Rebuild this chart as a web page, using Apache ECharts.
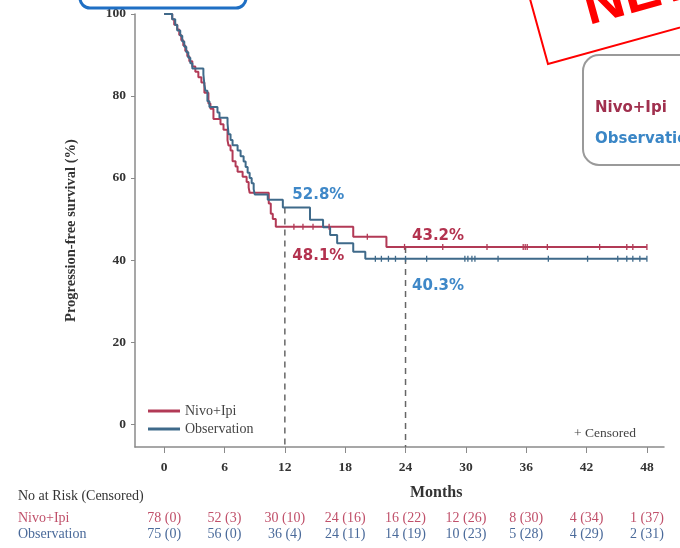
<!DOCTYPE html>
<html><head><meta charset="utf-8">
<script src="https://cdn.jsdelivr.net/npm/echarts@6/dist/echarts.min.js"></script>
<style>html,body{margin:0;padding:0;background:#fff}#c{width:680px;height:548px}</style>
</head><body><div id="c"></div>
<script>
// ---------- data ----------
const monthTicks = [0, 6, 12, 18, 24, 30, 36, 42, 48];
const pctTicks = [0, 20, 40, 60, 80, 100];

const nivoTimes = [0, 0.8, 1.0, 1.3, 1.5, 1.7, 1.9, 2.1, 2.3, 2.5, 2.8, 3.1, 3.4, 3.7, 4.0, 4.4, 4.6, 4.9, 5.6, 5.9, 6.3, 6.4, 6.6, 6.8, 7.1, 7.3, 7.8, 8.2, 8.4, 8.5, 10.4, 10.6, 10.8, 11.1, 18.8, 22.1, 48];
const nivoSurv  = [100, 98.7, 97.4, 96.2, 94.9, 93.6, 92.3, 91.0, 89.7, 88.5, 87.2, 85.9, 84.6, 83.3, 80.8, 78.2, 76.9, 74.4, 73.1, 71.8, 69.2, 67.9, 66.7, 64.1, 62.8, 61.5, 60.3, 59.0, 57.7, 56.4, 53.8, 51.3, 50.0, 48.1, 45.7, 43.2, 43.2];

const obsTimes = [0, 0.8, 1.1, 1.3, 1.6, 1.8, 2.0, 2.2, 2.4, 2.6, 2.8, 3.9, 4.0, 4.1, 4.3, 4.5, 5.3, 5.5, 6.3, 6.4, 6.6, 6.8, 7.3, 7.6, 7.9, 8.1, 8.3, 8.5, 8.7, 8.9, 9.0, 10.3, 11.8, 14.5, 15.8, 16.5, 17.2, 18.8, 20.0, 48];
const obsSurv  = [100, 98.7, 97.3, 96.0, 94.7, 93.3, 92.0, 90.7, 89.3, 88.0, 86.7, 85.3, 82.7, 81.3, 78.7, 77.3, 76.0, 74.7, 73.3, 70.7, 69.3, 68.0, 66.7, 65.3, 64.0, 62.7, 61.3, 60.0, 58.7, 57.3, 56.0, 54.7, 52.8, 49.8, 48.0, 46.1, 44.1, 42.0, 40.3, 40.3];

const nivoCensored = [12.9, 13.8, 14.8, 16.4, 20.2, 23.9, 27.7, 32.1, 35.7, 35.9, 36.1, 38.1, 43.3, 46.0, 46.6, 48.0];
const obsCensored  = [21.0, 21.6, 22.3, 23.0, 24.0, 26.1, 29.9, 30.2, 30.6, 30.9, 33.2, 38.2, 42.1, 45.1, 46.0, 46.6, 47.3, 48.0];

const milestoneMonths = [12, 24];
const nivoMilestone = [48.1, 43.2];
const obsMilestone = [52.8, 40.3];

const riskRows = ['Observation', 'Nivo+Ipi'];
const nivoRisk = ['78 (0)', '52 (3)', '30 (10)', '24 (16)', '16 (22)', '12 (26)', '8 (30)', '4 (34)', '1 (37)'];
const obsRisk  = ['75 (0)', '56 (0)', '36 (4)', '24 (11)', '14 (19)', '10 (23)', '5 (28)', '4 (29)', '2 (31)'];

// ---------- style ----------
const RED = '#b23a56';
const BLUE = '#3f6a8a';
const RED_T = '#b3324f';
const BLUE_T = '#3f88c8';
const SERIF = '"Liberation Serif", "DejaVu Serif", serif';
const SANS = '"DejaVu Sans", sans-serif';
const X_MIN = -2.9, X_MAX = 49.7, Y_MIN = -5.6, Y_MAX = 100;

function survAt(times, surv, t) {
  let v = surv[0];
  for (let i = 0; i < times.length; i++) { if (times[i] <= t) v = surv[i]; }
  return v;
}
const zip = (a, b) => a.map((v, i) => [v, b[i]]);

const chart = echarts.init(document.getElementById('c'), null, {renderer: 'canvas'});

const dashedSeries = milestoneMonths.map((m, i) => ({
  type: 'line', silent: true, symbol: 'none', z: 1,
  data: [[m, Math.max(nivoMilestone[i], obsMilestone[i])], [m, Y_MIN]],
  lineStyle: {color: '#666', width: 1.5, type: [6, 5]}
}));

const annot = [
  {value: [milestoneMonths[0], obsMilestone[0]], label: {offset: [7, -12], color: BLUE_T}},
  {value: [milestoneMonths[0], nivoMilestone[0]], label: {offset: [7, 29], color: RED_T}},
  {value: [milestoneMonths[1], nivoMilestone[1]], label: {offset: [6, -11], color: RED_T}},
  {value: [milestoneMonths[1], obsMilestone[1]], label: {offset: [6, 27], color: BLUE_T}}
];

const option = {
  backgroundColor: '#fff',
  animation: false,
  grid: [
    {left: 135, right: 16, top: 14, bottom: 101},
    {left: 135, right: 16, top: 510, height: 32}
  ],
  legend: {
    left: 143, top: 399, orient: 'vertical', itemGap: 4,
    itemWidth: 32, itemHeight: 3, icon: 'rect',
    data: ['Nivo+Ipi', 'Observation'],
    textStyle: {fontFamily: SERIF, fontSize: 14, color: '#444', lineHeight: 14}
  },
  xAxis: [{
    type: 'value', min: X_MIN, max: X_MAX, gridIndex: 0,
    axisLine: {show: true, onZero: false, lineStyle: {color: '#8a8a8a', width: 1.5}},
    axisTick: {show: true, customValues: monthTicks, length: 6, lineStyle: {color: '#8a8a8a'}},
    axisLabel: {customValues: monthTicks, margin: 14, fontFamily: SERIF, fontWeight: 'bold', fontSize: 13.5, color: '#333'},
    splitLine: {show: false}
  }, {
    type: 'value', min: X_MIN, max: X_MAX, gridIndex: 1, show: false
  }],
  yAxis: [{
    type: 'value', min: Y_MIN, max: Y_MAX, gridIndex: 0,
    axisLine: {show: true, onZero: false, lineStyle: {color: '#8a8a8a', width: 1.5}},
    axisTick: {show: true, customValues: pctTicks, length: 4, lineStyle: {color: '#8a8a8a'}},
    axisLabel: {customValues: pctTicks, margin: 9, fontFamily: SERIF, fontWeight: 'bold', fontSize: 13.5, color: '#333'},
    splitLine: {show: false},
    name: 'Progression-free survival (%)', nameLocation: 'middle', nameGap: 56,
    nameTextStyle: {fontFamily: SERIF, fontWeight: 'bold', fontSize: 14.5, color: '#333'}
  }, {
    type: 'category', gridIndex: 1, data: riskRows,
    axisLine: {show: false}, axisTick: {show: false},
    axisLabel: {
      align: 'left', margin: 117,
      formatter: v => v === 'Nivo+Ipi' ? '{n|' + v + '}' : '{o|' + v + '}',
      rich: {
        n: {fontFamily: SERIF, fontSize: 14, color: '#c0506a'},
        o: {fontFamily: SERIF, fontSize: 14, color: '#4a6a9a'}
      }
    }
  }],
  series: [
    {
      name: 'Nivo+Ipi', type: 'line', step: 'end', symbol: 'none', z: 3,
      data: zip(nivoTimes, nivoSurv),
      itemStyle: {color: RED}, lineStyle: {color: RED, width: 2}
    },
    {
      name: 'Observation', type: 'line', step: 'end', symbol: 'none', z: 4,
      data: zip(obsTimes, obsSurv),
      itemStyle: {color: BLUE}, lineStyle: {color: BLUE, width: 2}
    },
    {
      name: 'nivoCens', type: 'scatter', symbol: 'rect', symbolSize: [1.3, 6], z: 5,
      data: nivoCensored.map(t => [t, survAt(nivoTimes, nivoSurv, t)]),
      itemStyle: {color: RED, opacity: 1}
    },
    {
      name: 'obsCens', type: 'scatter', symbol: 'rect', symbolSize: [1.3, 6], z: 5,
      data: obsCensored.map(t => [t, survAt(obsTimes, obsSurv, t)]),
      itemStyle: {color: BLUE, opacity: 1}
    },
    ...dashedSeries,
    {
      name: 'annot', type: 'scatter', symbolSize: 1, z: 6, silent: true,
      itemStyle: {color: 'rgba(0,0,0,0)', opacity: 1},
      data: annot,
      label: {
        show: true, position: 'right', distance: 0, opacity: 1,
        formatter: p => p.value[1].toFixed(1) + '%',
        fontFamily: SANS, fontWeight: 'bold', fontSize: 15
      }
    },
    {
      name: 'riskNivo', type: 'scatter', xAxisIndex: 1, yAxisIndex: 1, symbolSize: 1, silent: true,
      itemStyle: {color: 'rgba(0,0,0,0)', opacity: 1},
      data: monthTicks.map((m, i) => [m, 'Nivo+Ipi']),
      label: {show: true, position: 'inside', opacity: 1, formatter: p => nivoRisk[p.dataIndex],
        fontFamily: SERIF, fontSize: 14, color: '#c0506a'}
    },
    {
      name: 'riskObs', type: 'scatter', xAxisIndex: 1, yAxisIndex: 1, symbolSize: 1, silent: true,
      itemStyle: {color: 'rgba(0,0,0,0)', opacity: 1},
      data: monthTicks.map((m, i) => [m, 'Observation']),
      label: {show: true, position: 'inside', opacity: 1, formatter: p => obsRisk[p.dataIndex],
        fontFamily: SERIF, fontSize: 14, color: '#4a6a9a'}
    }
  ],
  graphic: [
    {type: 'text', left: 410, top: 485, style: {text: 'Months', font: 'bold 16px ' + SERIF, fill: '#333'}},
    {type: 'text', left: 18, top: 489, style: {text: 'No at Risk (Censored)', font: '14px ' + SERIF, fill: '#333'}},
    {type: 'text', left: 574, top: 426, style: {text: '+ Censored', font: '13.5px ' + SERIF, fill: '#444'}},
    // blue box at top
    {type: 'rect', shape: {x: 80, y: -30, width: 166, height: 38, r: 10},
     style: {fill: '#fff', stroke: '#1f6fc4', lineWidth: 3}, z: 10},
    // red NEW stamp
    {type: 'group', x: 548, y: 64, rotation: 0.27, z: 10, children: [
      {type: 'rect', shape: {x: 0, y: -110, width: 260, height: 110},
       style: {fill: '#fff', stroke: '#f00', lineWidth: 2}},
      {type: 'text', x: 50, y: -14, style: {text: 'NEW', font: 'bold 56px "Liberation Sans", sans-serif', fill: '#f00', textVerticalAlign: 'bottom'}}
    ]},
    // right legend box
    {type: 'rect', shape: {x: 583, y: 55, width: 140, height: 110, r: 16},
     style: {fill: '#fff', stroke: '#9a9a9a', lineWidth: 2}, z: 10},
    {type: 'text', x: 595, y: 108, z: 11, style: {text: 'Nivo+Ipi', font: 'bold 15px ' + SANS, fill: '#a0304e', textVerticalAlign: 'middle'}},
    {type: 'text', x: 595, y: 139, z: 11, style: {text: 'Observation', font: 'bold 15px ' + SANS, fill: '#3a86c6', textVerticalAlign: 'middle'}}
  ]
};
chart.setOption(option);
</script>
</body></html>
